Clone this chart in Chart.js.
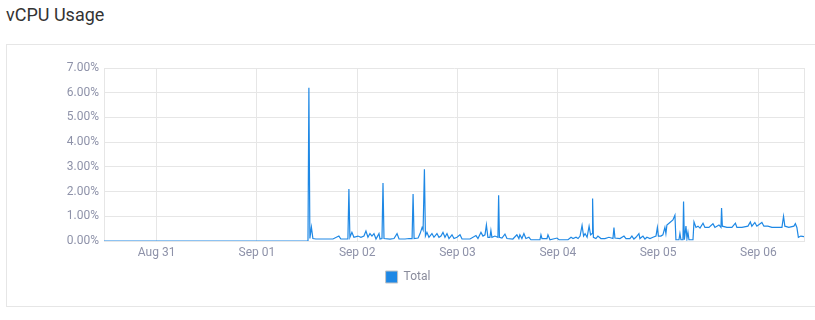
<!DOCTYPE html>
<html>
<head>
    <title>vCPU Usage</title>
    <script src="https://cdn.jsdelivr.net/npm/chart.js"></script>
    <style>
        body {
            margin: 0;
            background: #fff;
            font-family: Roboto, Arial, sans-serif;
            width: 815px;
            height: 320px;
            overflow: hidden;
            position: relative;
        }
        h2 {
            position: absolute;
            left: 6px;
            top: 4px;
            margin: 0;
            font-size: 18px;
            font-weight: 400;
            color: #333;
        }
        .card {
            position: absolute;
            left: 6px;
            top: 44px;
            width: 830px;
            height: 261px;
            border: 1px solid #e6e6e6;
        }
        canvas {
            position: absolute;
            left: 0;
            top: 0;
        }
    </style>
</head>
<body>
    <h2>vCPU Usage</h2>
    <div class="card"></div>
    <canvas id="chart" width="815" height="320"></canvas>
    <script>
        // x positions are days counted from Aug 31 00:00
        var xMin = -0.525;
        var xMax = 6.455;
        var tickLabels = ['Aug 31', 'Sep 01', 'Sep 02', 'Sep 03', 'Sep 04', 'Sep 05', 'Sep 06'];

        var dayOffset = [
            -0.525, 1.509, 1.518, 1.528, 1.543, 1.558, 1.588, 1.678, 1.758, 1.817,
            1.837, 1.907, 1.917, 1.927, 1.947, 1.967, 2.007, 2.037, 2.067, 2.087,
            2.107, 2.127, 2.147, 2.167, 2.187, 2.217, 2.227, 2.247, 2.257, 2.267,
            2.327, 2.367, 2.397, 2.417, 2.477, 2.517, 2.547, 2.557, 2.567, 2.607,
            2.627, 2.647, 2.657, 2.670, 2.680, 2.695, 2.715, 2.745, 2.765, 2.795,
            2.815, 2.835, 2.855, 2.875, 2.895, 2.915, 2.945, 2.965, 2.995, 3.025,
            3.045, 3.085, 3.125, 3.184, 3.204, 3.234, 3.254, 3.274, 3.288, 3.303,
            3.323, 3.333, 3.343, 3.373, 3.403, 3.410, 3.418, 3.443, 3.473, 3.493,
            3.552, 3.592, 3.612, 3.622, 3.642, 3.662, 3.682, 3.712, 3.732, 3.822,
            3.832, 3.842, 3.892, 3.902, 3.922, 3.992, 4.012, 4.102, 4.132, 4.152,
            4.182, 4.202, 4.222, 4.242, 4.257, 4.272, 4.292, 4.312, 4.327, 4.342,
            4.347, 4.355, 4.380, 4.400, 4.430, 4.470, 4.510, 4.550, 4.560, 4.570,
            4.620, 4.660, 4.680, 4.719, 4.739, 4.759, 4.779, 4.809, 4.819, 4.849,
            4.869, 4.889, 4.919, 4.949, 4.979, 4.993, 5.003, 5.028, 5.048, 5.068,
            5.078, 5.088, 5.118, 5.148, 5.168, 5.178, 5.208, 5.218, 5.228, 5.248,
            5.254, 5.262, 5.278, 5.288, 5.298, 5.308, 5.348, 5.358, 5.378, 5.398,
            5.418, 5.448, 5.467, 5.507, 5.547, 5.567, 5.607, 5.627, 5.633, 5.641,
            5.686, 5.736, 5.771, 5.786, 5.836, 5.896, 5.920, 5.935, 5.965, 5.985,
            6.035, 6.055, 6.095, 6.135, 6.185, 6.235, 6.251, 6.264, 6.304, 6.354,
            6.369, 6.384, 6.399, 6.424, 6.455
        ];

        var usagePct = [
            0.00, 0.00, 6.20, 0.10, 0.56, 0.10, 0.08, 0.08, 0.08, 0.20,
            0.08, 0.08, 2.10, 0.15, 0.35, 0.15, 0.20, 0.15, 0.20, 0.40,
            0.15, 0.30, 0.20, 0.30, 0.08, 0.30, 0.08, 0.10, 2.35, 0.10,
            0.08, 0.10, 0.30, 0.08, 0.08, 0.10, 0.10, 1.90, 0.10, 0.12,
            0.30, 0.55, 0.45, 2.90, 0.20, 0.35, 0.15, 0.30, 0.15, 0.30,
            0.15, 0.20, 0.35, 0.15, 0.30, 0.10, 0.25, 0.10, 0.15, 0.25,
            0.08, 0.08, 0.08, 0.22, 0.10, 0.35, 0.20, 0.25, 0.65, 0.15,
            0.15, 0.43, 0.15, 0.20, 0.15, 1.85, 0.15, 0.12, 0.28, 0.10,
            0.08, 0.25, 0.10, 0.25, 0.10, 0.30, 0.10, 0.15, 0.05, 0.05,
            0.25, 0.10, 0.10, 0.25, 0.05, 0.12, 0.05, 0.05, 0.15, 0.10,
            0.15, 0.10, 0.20, 0.63, 0.20, 0.30, 0.15, 0.60, 0.25, 0.30,
            1.72, 0.15, 0.10, 0.20, 0.10, 0.10, 0.15, 0.10, 0.54, 0.12,
            0.10, 0.20, 0.10, 0.10, 0.20, 0.08, 0.15, 0.30, 0.10, 0.20,
            0.08, 0.15, 0.10, 0.15, 0.20, 0.55, 0.20, 0.20, 0.25, 0.55,
            0.30, 0.65, 0.75, 0.85, 1.04, 0.05, 0.05, 0.30, 0.05, 0.05,
            1.60, 0.05, 0.60, 0.10, 0.35, 0.05, 0.05, 0.77, 0.55, 0.60,
            0.52, 0.72, 0.55, 0.55, 0.70, 0.55, 0.65, 0.55, 1.33, 0.60,
            0.55, 0.55, 0.72, 0.55, 0.55, 0.60, 0.77, 0.60, 0.75, 0.60,
            0.75, 0.60, 0.60, 0.55, 0.55, 0.55, 1.00, 0.60, 0.55, 0.60,
            0.70, 0.55, 0.15, 0.20, 0.18
        ];

        var points = dayOffset.map(function(d, i) {
            return { x: d, y: usagePct[i] };
        });

        var gridColor = '#e6e6e6';
        var tickColor = '#8e92a9';

        var ctx = document.getElementById('chart').getContext('2d');
        var chart = new Chart(ctx, {
            type: 'line',
            data: {
                datasets: [{
                    label: 'Total',
                    data: points,
                    borderColor: '#1e88e5',
                    backgroundColor: '#1e88e5',
                    borderWidth: 1.2,
                    pointRadius: 0,
                    tension: 0,
                    fill: false
                }]
            },
            options: {
                responsive: false,
                animation: false,
                layout: {
                    padding: { top: 68, right: 11, bottom: 27, left: 12 }
                },
                plugins: {
                    tooltip: { enabled: false },
                    legend: {
                        position: 'bottom',
                        labels: {
                            boxWidth: 12,
                            boxHeight: 12,
                            color: '#8a8c9c',
                            font: { family: 'Roboto', size: 12 },
                            generateLabels: function(chart) {
                                return chart.data.datasets.map(function(ds, i) {
                                    return {
                                        text: ds.label,
                                        fillStyle: ds.backgroundColor,
                                        strokeStyle: '#c4c4c4',
                                        fontColor: '#8a8c9c',
                                        lineWidth: 1,
                                        datasetIndex: i
                                    };
                                });
                            }
                        }
                    }
                },
                scales: {
                    x: {
                        type: 'linear',
                        min: xMin,
                        max: xMax,
                        afterBuildTicks: function(scale) {
                            var t = tickLabels.map(function(l, i) { return { value: i }; });
                            t.push({ value: xMax });
                            scale.ticks = t;
                        },
                        afterFit: function(scale) { scale.height = 20; },
                        grid: { color: gridColor, drawTicks: false },
                        border: { color: gridColor },
                        ticks: {
                            autoSkip: false,
                            maxRotation: 0,
                            padding: 5,
                            color: tickColor,
                            font: { family: 'Roboto', size: 12 },
                            callback: function(value) {
                                return tickLabels[value] !== undefined ? tickLabels[value] : '';
                            }
                        }
                    },
                    y: {
                        min: 0,
                        max: 7,
                        afterFit: function(scale) { scale.width = 92; },
                        grid: { color: gridColor, drawTicks: false },
                        border: { color: gridColor },
                        ticks: {
                            stepSize: 1,
                            padding: 5,
                            color: tickColor,
                            font: { family: 'Roboto', size: 12 },
                            callback: function(value) {
                                return value.toFixed(2) + '%';
                            }
                        }
                    }
                }
            }
        });
    </script>
</body>
</html>
